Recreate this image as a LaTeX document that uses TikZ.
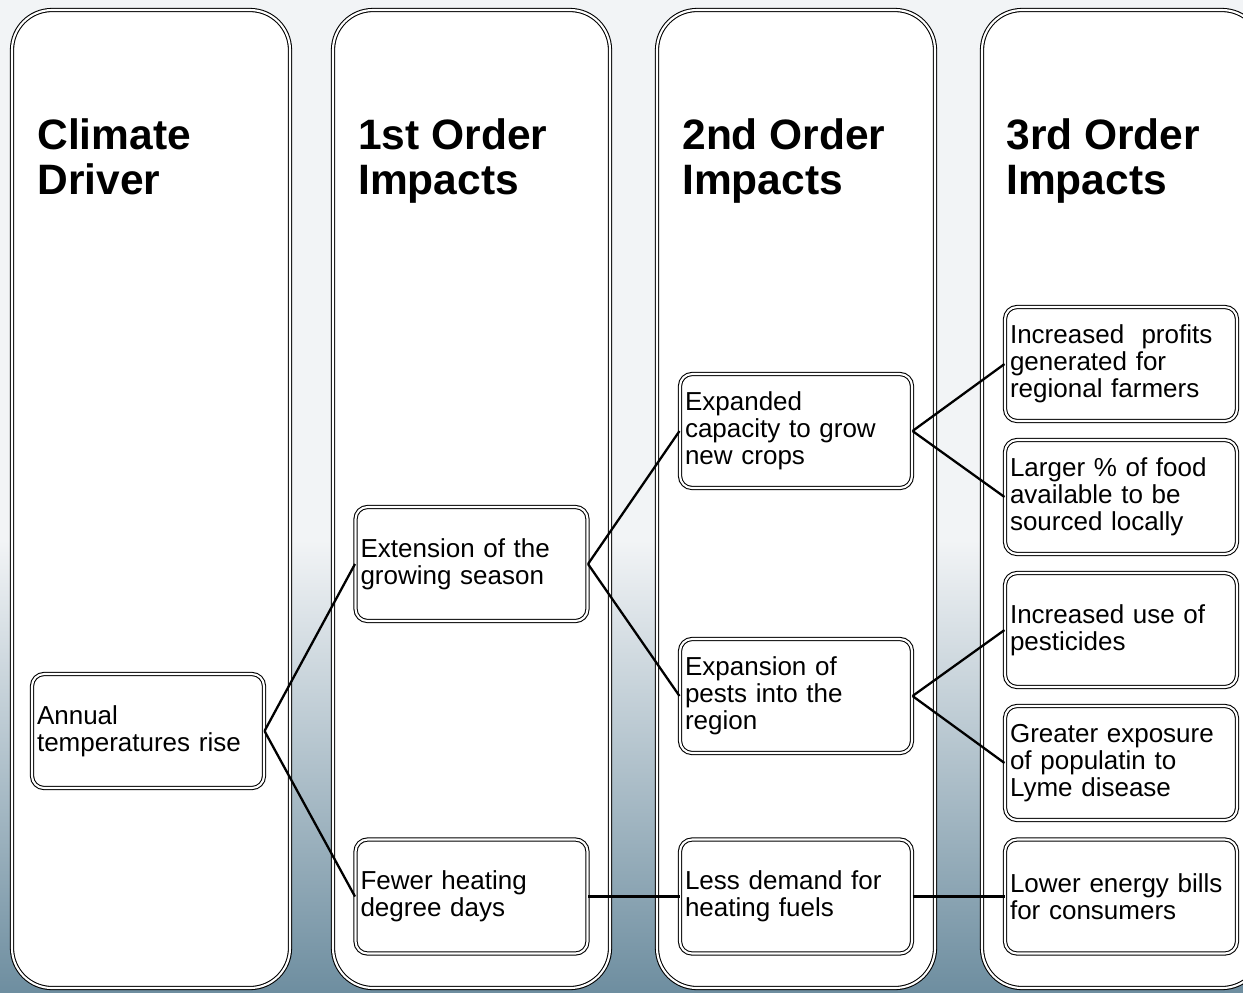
\documentclass[tikz,border=0pt]{standalone}
\usepackage{fontspec}
\setmainfont{Liberation Sans}
\definecolor{bgtop}{RGB}{242,244,246}
\definecolor{bgbot}{RGB}{110,142,160}
\begin{document}
\begin{tikzpicture}[x=0.02cm, y=-0.02cm,
  lane/.style={draw=black, double=white, double distance=1.2pt, line width=0.6pt, rounded corners=0.8cm, fill=white},
  impact/.style={draw=black, double=white, double distance=1.2pt, line width=0.6pt, rounded corners=0.24cm, fill=white,
    text width=4.44cm, inner xsep=0.1cm, inner ysep=0pt, minimum height=2.28cm, align=left,
    font=\fontsize{14.8}{15.4}\selectfont},
  heading/.style={anchor=north west, inner sep=0pt, align=left, font=\fontsize{24.2}{25.6}\selectfont\bfseries},
  link/.style={draw=black, line width=1.3pt}]
\useasboundingbox (0,0) rectangle (1243,992);
\clip (0,0) rectangle (1243,992);
\fill[bgtop] (0,0) rectangle (1243,992);
\shade[top color=bgtop, bottom color=bgbot] (0,540) rectangle (1243,992);
% columns
\draw[lane] (12,10) rectangle (290,988);
\draw[lane] (333,10) rectangle (610,988);
\draw[lane] (657,10) rectangle (935,988);
\draw[lane] (982,10) rectangle (1262,988);
\node[heading] (driver) at (37,118) {Climate\\Driver};
\node[heading] (first) at (358,118) {1st Order\\Impacts};
\node[heading] (second) at (682,118) {2nd Order\\Impacts};
\node[heading] (third) at (1006,118) {3rd Order\\Impacts};
% impacts
\node[impact] (annual) at (148,731) {Annual\\temperatures rise};
\node[impact] (season) at (471.5,564) {Extension of the\\growing season};
\node[impact] (heating) at (471.5,896.5) {Fewer heating\\degree days};
\node[impact] (crops) at (796,431) {Expanded\\capacity to grow\\new crops};
\node[impact] (pests) at (796,696) {Expansion of\\pests into the\\region};
\node[impact] (fuels) at (796,896.5) {Less demand for\\heating fuels};
\node[impact] (profits) at (1121,364) {Increased~ profits\\generated for\\regional farmers};
\node[impact] (local) at (1121,497) {Larger \% of food\\available to be\\sourced locally};
\node[impact] (pesticides) at (1121,630) {Increased use of\\pesticides};
\node[impact] (lyme) at (1121,763) {Greater exposure\\of populatin to\\Lyme disease};
\node[impact] (bills) at (1121,896.5) {Lower energy bills\\for consumers};
% links
\draw[link] (annual.east) -- (season.west);
\draw[link] (annual.east) -- (heating.west);
\draw[link] (season.east) -- (crops.west);
\draw[link] (season.east) -- (pests.west);
\draw[link] (heating.east) -- (fuels.west);
\draw[link] (crops.east) -- (profits.west);
\draw[link] (crops.east) -- (local.west);
\draw[link] (pests.east) -- (pesticides.west);
\draw[link] (pests.east) -- (lyme.west);
\draw[link] (fuels.east) -- (bills.west);
\end{tikzpicture}
\end{document}
